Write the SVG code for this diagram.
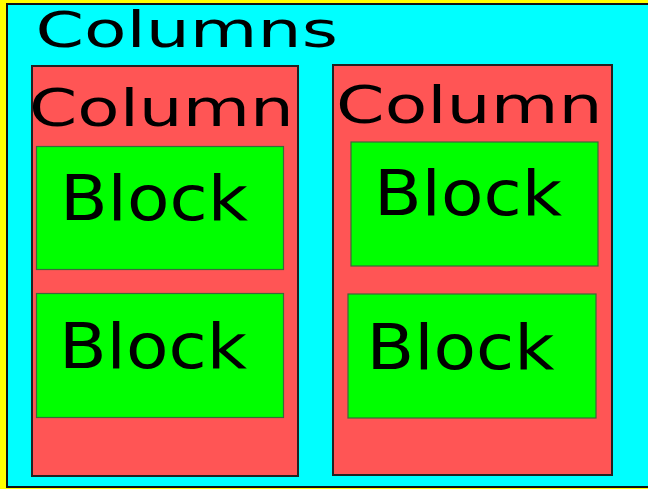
<svg xmlns="http://www.w3.org/2000/svg" width="648" height="489" viewBox="0 0 648 489">
<style>
text{font-family:"DejaVu Sans","Liberation Sans",sans-serif;fill:#000}
.col{fill:#ff5555;stroke:#222;stroke-width:2}
.blk{fill:#00ff00;stroke:#3a6a3a;stroke-width:1.2}
.bt{font-size:63px}
.ct{font-size:51px}
</style>
<rect x="0" y="0" width="648" height="489" fill="#ffff00"/>
<g id="columns">
<rect x="7" y="4" width="662" height="483" fill="#00ffff" stroke="#111" stroke-width="2"/>
<text x="35.4" y="46.7" font-size="49" textLength="302.5" lengthAdjust="spacingAndGlyphs">Columns</text>
</g>
<g id="column1">
<rect class="col" x="32" y="66" width="266" height="410"/>
<text class="ct" x="29.1" y="126" textLength="264.7" lengthAdjust="spacingAndGlyphs">Column</text>
</g>
<g id="column2">
<rect class="col" x="333" y="65" width="279" height="410"/>
<text class="ct" x="336.1" y="122.7" textLength="266.5" lengthAdjust="spacingAndGlyphs">Column</text>
</g>
<g id="block1">
<rect class="blk" x="36.5" y="146.5" width="247" height="123"/>
<text class="bt" x="59.9" y="220" textLength="188" lengthAdjust="spacingAndGlyphs">Block</text>
</g>
<g id="block2">
<rect class="blk" x="36.5" y="293.5" width="247" height="124"/>
<text class="bt" x="58.9" y="368.3" textLength="188" lengthAdjust="spacingAndGlyphs">Block</text>
</g>
<g id="block3">
<rect class="blk" x="351" y="142" width="247" height="124"/>
<text class="bt" x="373.9" y="215" textLength="188" lengthAdjust="spacingAndGlyphs">Block</text>
</g>
<g id="block4">
<rect class="blk" x="348" y="294" width="248" height="124"/>
<text class="bt" x="366.5" y="369" textLength="188" lengthAdjust="spacingAndGlyphs">Block</text>
</g>
<g id="connectors"></g>
</svg>
